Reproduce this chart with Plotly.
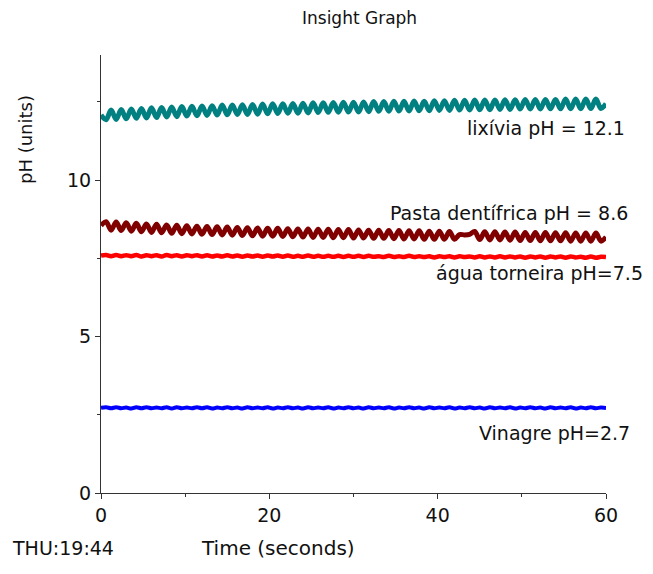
import numpy as np
import plotly.graph_objects as go

# sampling grid (seconds)
time_s = list(np.round(np.arange(0, 60.0001, 0.6), 2))

lixivia = [12.08, 11.93, 12.24, 11.94, 12.26, 11.96, 12.27, 11.98, 12.29, 11.99,
           12.31, 12.00, 12.32, 12.02, 12.34, 12.03, 12.35, 12.05, 12.36, 12.06,
           12.37, 12.07, 12.38, 12.08, 12.40, 12.09, 12.40, 12.10, 12.41, 12.10,
           12.42, 12.11, 12.43, 12.12, 12.44, 12.13, 12.44, 12.14, 12.45, 12.14,
           12.46, 12.15, 12.47, 12.16, 12.47, 12.17, 12.48, 12.17, 12.49, 12.18,
           12.49, 12.18, 12.50, 12.19, 12.51, 12.20, 12.51, 12.20, 12.52, 12.21,
           12.52, 12.21, 12.53, 12.22, 12.52, 12.22, 12.54, 12.23, 12.54, 12.23,
           12.55, 12.24, 12.55, 12.24, 12.56, 12.25, 12.56, 12.25, 12.56, 12.26,
           12.57, 12.26, 12.57, 12.27, 12.58, 12.27, 12.58, 12.27, 12.58, 12.28,
           12.58, 12.28, 12.59, 12.28, 12.59, 12.28, 12.59, 12.29, 12.59, 12.29,
           12.44]

pasta = [8.55, 8.67, 8.40, 8.66, 8.39, 8.64, 8.37, 8.62, 8.35, 8.60,
         8.33, 8.59, 8.32, 8.57, 8.30, 8.56, 8.29, 8.54, 8.28, 8.53,
         8.27, 8.52, 8.26, 8.51, 8.25, 8.50, 8.24, 8.49, 8.23, 8.48,
         8.22, 8.47, 8.21, 8.46, 8.21, 8.46, 8.20, 8.45, 8.19, 8.44,
         8.18, 8.44, 8.17, 8.43, 8.17, 8.43, 8.16, 8.42, 8.16, 8.42,
         8.15, 8.41, 8.15, 8.40, 8.14, 8.40, 8.14, 8.39, 8.13, 8.39,
         8.12, 8.38, 8.12, 8.38, 8.11, 8.37, 8.11, 8.37, 8.11, 8.36,
         8.11, 8.26, 8.25, 8.27, 8.36, 8.10, 8.35, 8.09, 8.35, 8.09,
         8.34, 8.08, 8.34, 8.07, 8.33, 8.07, 8.33, 8.06, 8.33, 8.06,
         8.32, 8.06, 8.32, 8.05, 8.31, 8.05, 8.31, 8.05, 8.31, 8.05,
         8.18]

agua = [7.59, 7.61, 7.57, 7.61, 7.57, 7.60, 7.57, 7.61, 7.56, 7.60,
        7.57, 7.60, 7.56, 7.61, 7.57, 7.60, 7.56, 7.60, 7.57, 7.60,
        7.56, 7.60, 7.56, 7.59, 7.56, 7.60, 7.56, 7.59, 7.55, 7.59,
        7.56, 7.59, 7.55, 7.59, 7.56, 7.59, 7.55, 7.59, 7.55, 7.58,
        7.55, 7.59, 7.55, 7.58, 7.55, 7.58, 7.55, 7.58, 7.54, 7.58,
        7.55, 7.58, 7.54, 7.58, 7.55, 7.57, 7.54, 7.58, 7.54, 7.57,
        7.54, 7.58, 7.54, 7.57, 7.54, 7.57, 7.53, 7.57, 7.54, 7.57,
        7.53, 7.57, 7.54, 7.56, 7.53, 7.57, 7.53, 7.56, 7.53, 7.57,
        7.53, 7.56, 7.53, 7.56, 7.52, 7.56, 7.53, 7.56, 7.52, 7.56,
        7.53, 7.56, 7.52, 7.56, 7.53, 7.55, 7.52, 7.56, 7.52, 7.55,
        7.54]

vinagre = [2.72, 2.74, 2.71, 2.74, 2.71, 2.73, 2.70, 2.74, 2.71, 2.74,
           2.71, 2.73, 2.71, 2.74, 2.70, 2.74, 2.71, 2.73, 2.71, 2.74,
           2.71, 2.74, 2.70, 2.73, 2.71, 2.74, 2.71, 2.73, 2.70, 2.74,
           2.71, 2.73, 2.71, 2.74, 2.70, 2.73, 2.71, 2.74, 2.71, 2.73,
           2.70, 2.74, 2.71, 2.73, 2.71, 2.74, 2.70, 2.73, 2.71, 2.74,
           2.71, 2.73, 2.70, 2.74, 2.71, 2.73, 2.71, 2.74, 2.70, 2.73,
           2.71, 2.74, 2.71, 2.73, 2.70, 2.74, 2.71, 2.73, 2.71, 2.74,
           2.70, 2.73, 2.71, 2.74, 2.71, 2.73, 2.70, 2.74, 2.71, 2.73,
           2.71, 2.74, 2.70, 2.73, 2.71, 2.74, 2.71, 2.73, 2.70, 2.74,
           2.71, 2.73, 2.71, 2.74, 2.70, 2.73, 2.71, 2.74, 2.71, 2.73,
           2.72]

series_names = ["lixívia", "Pasta dentífrica", "água torneira", "Vinagre"]
series_values = [lixivia, pasta, agua, vinagre]
series_colors = ["#008080", "#800000", "#ff0000", "#0000ff"]
series_widths = [5, 5, 4.5, 4]

label_texts = ["lixívia pH = 12.1", "Pasta dentífrica pH = 8.6",
               "água torneira pH=7.5", "Vinagre pH=2.7"]

FONT = "DejaVu Sans, Verdana, sans-serif"
TXT = "#111"

fig = go.Figure()
for name, vals, col, w in zip(series_names, series_values, series_colors, series_widths):
    fig.add_trace(go.Scatter(x=time_s, y=vals, mode="lines", name=name,
                             line=dict(color=col, width=w, shape="spline", smoothing=1.0),
                             showlegend=False))


def note(text, dx, dy, size, xanchor="center", angle=0):
    # positioned relative to the lower-left corner of the plotting area
    return dict(x=0, y=0, xref="paper", yref="paper", xshift=dx, yshift=dy,
                text=text, showarrow=False, xanchor=xanchor, yanchor="middle",
                textangle=angle, font=dict(family=FONT, size=size, color=TXT))


label_shifts = [(526, 365), (529, 280), (544, 220), (531, 60)]
annotations = [note(t, dx, dy, 19, xanchor="right")
               for t, (dx, dy) in zip(label_texts, label_shifts)]
annotations += [
    note("Insight Graph", 258, 475, 17),
    note("pH (units)", -76, 353, 18, angle=-90),
    note("Time (seconds)", 177, -55, 20),
    note("THU:19:44", -38, -55, 19),
]

fig.update_layout(
    width=645, height=566,
    margin=dict(l=93, r=47, t=47, b=81),
    plot_bgcolor="white", paper_bgcolor="white",
    font=dict(family=FONT, size=16, color=TXT),
    annotations=annotations,
)

fig.update_xaxes(range=[0, 60], tickvals=[0, 20, 40, 60], showgrid=False, zeroline=False,
                 showline=True, linecolor="#333", linewidth=1,
                 ticks="outside", ticklen=5, tickcolor="#333",
                 minor=dict(tickvals=[10, 30, 50], ticks="outside", ticklen=3, tickcolor="#333"),
                 tickfont=dict(family=FONT, size=19, color=TXT))
fig.update_yaxes(range=[0, 14], tickvals=[0, 5, 10], showgrid=False, zeroline=False,
                 showline=True, linecolor="#333", linewidth=1,
                 ticks="outside", ticklen=5, tickcolor="#333",
                 minor=dict(tickvals=[2.5, 7.5, 12.5], ticks="outside", ticklen=3, tickcolor="#333"),
                 tickfont=dict(family=FONT, size=19, color=TXT))

fig.write_html("out.html")
